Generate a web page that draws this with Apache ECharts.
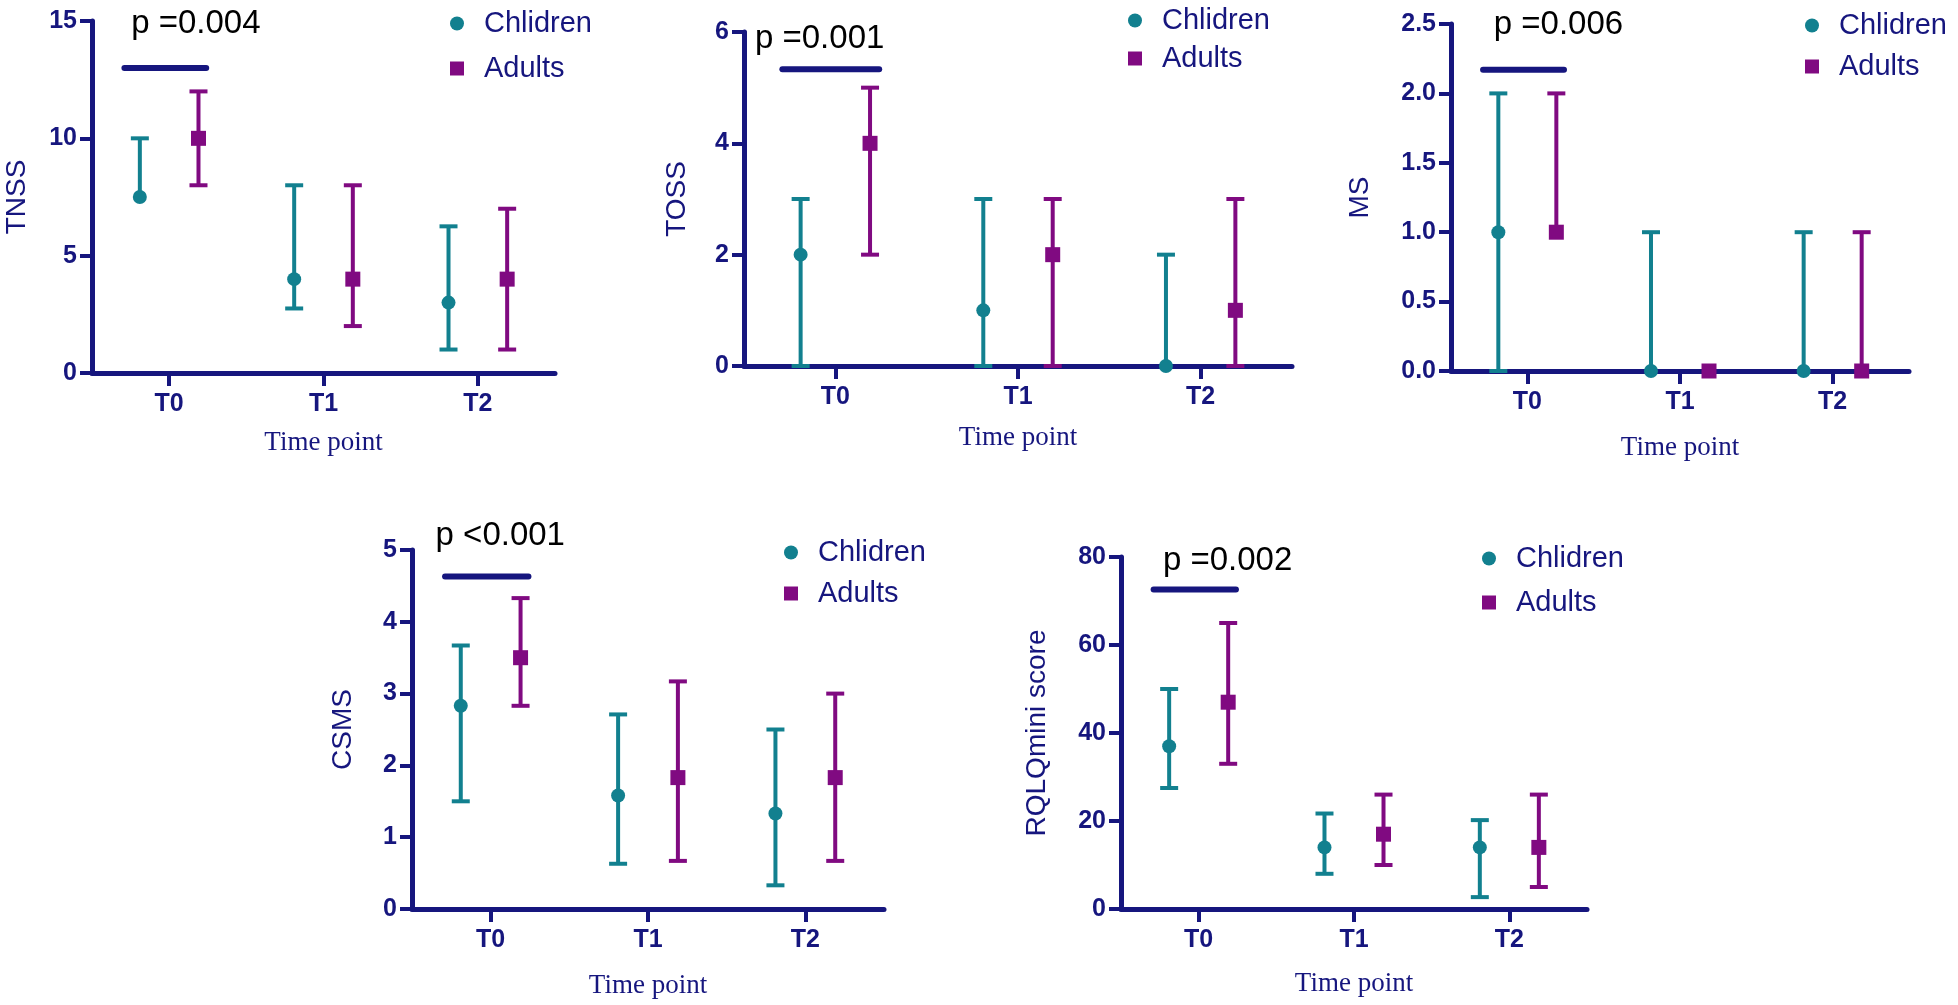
<!DOCTYPE html>
<html><head><meta charset="utf-8">
<script src="https://cdn.jsdelivr.net/npm/echarts@6/dist/echarts.min.js"></script>
<style>html,body{margin:0;padding:0;background:#fff}#c{width:1958px;height:1005px}</style>
</head><body><div id="c"></div>
<script>
// ---------- data ----------
const categories = ['T0', 'T1', 'T2'];
const groupNames = ['Chlidren', 'Adults'];

// TNSS
const tnssChildMedian = [7.5, 4, 3];
const tnssChildLow    = [7.5, 2.75, 1];
const tnssChildHigh   = [10, 8, 6.25];
const tnssAdultMedian = [10, 4, 4];
const tnssAdultLow    = [8, 2, 1];
const tnssAdultHigh   = [12, 8, 7];

// TOSS
const tossChildMedian = [2, 1, 0];
const tossChildLow    = [0, 0, 0];
const tossChildHigh   = [3, 3, 2];
const tossAdultMedian = [4, 2, 1];
const tossAdultLow    = [2, 0, 0];
const tossAdultHigh   = [5, 3, 3];

// MS
const msChildMedian = [1, 0, 0];
const msChildLow    = [0, 0, 0];
const msChildHigh   = [2, 1, 1];
const msAdultMedian = [1, 0, 0];
const msAdultLow    = [1, 0, 0];
const msAdultHigh   = [2, 0, 1];

// CSMS
const csmsChildMedian = [2.83, 1.58, 1.33];
const csmsChildLow    = [1.5, 0.63, 0.33];
const csmsChildHigh   = [3.67, 2.71, 2.5];
const csmsAdultMedian = [3.5, 1.83, 1.83];
const csmsAdultLow    = [2.83, 0.67, 0.67];
const csmsAdultHigh   = [4.33, 3.17, 3.0];

// RQLQmini
const rqlqChildMedian = [37, 14, 14];
const rqlqChildLow    = [27.5, 8, 2.7];
const rqlqChildHigh   = [50, 21.7, 20.2];
const rqlqAdultMedian = [47, 17, 14];
const rqlqAdultLow    = [33, 10, 5];
const rqlqAdultHigh   = [65, 26, 26];

// y-axis ticks and p values
const yAxisNames = ['TNSS', 'TOSS', 'MS', 'CSMS', 'RQLQmini score'];
const yMaxes     = [15, 6, 2.5, 5, 80];
const yIntervals = [5, 2, 0.5, 1, 20];
const pLabels    = ['p =0.004', 'p =0.001', 'p =0.006', 'p <0.001', 'p =0.002'];

// ---------- styles / layout ----------
const NAVY = '#16167e';
const TEAL = '#12808f';
const PURPLE = '#800a81';
const SANS = '"Liberation Sans", Arial, sans-serif';
const SERIF = '"Liberation Serif", "Times New Roman", serif';
const SQUARE_ICON = 'path://M0,0H10V10H0Z';

const layout = [
  {grid:{left:92, top:21, width:463, height:352}, legend:{left:445, top:4, gap:17}, yNameGap:61, xNameGap:56, pDx:-0.246, pY:14.87, sigY:13.0, dec:0},
  {grid:{left:744, top:32, width:548, height:334}, legend:{left:1123, top:1, gap:10}, yNameGap:53, xNameGap:58, pDx:-0.44, pY:5.87, sigY:5.33, dec:0},
  {grid:{left:1451, top:24, width:458, height:347}, legend:{left:1800, top:6, gap:13}, yNameGap:77, xNameGap:63, pDx:-0.22, pY:2.49, sigY:2.17, dec:1},
  {grid:{left:412, top:550, width:472, height:359}, legend:{left:779, top:533, gap:13}, yNameGap:55, xNameGap:63, pDx:-0.35, pY:5.19, sigY:4.63, dec:0},
  {grid:{left:1121, top:557, width:466, height:352}, legend:{left:1477, top:539, gap:16}, yNameGap:70, xNameGap:61, pDx:-0.23, pY:79.1, sigY:72.6, dec:0}
];
const OFFSET = 0.19, SIG_FROM = -0.29, SIG_TO = 0.24;

const panelData = [
  [[tnssChildMedian, tnssChildLow, tnssChildHigh], [tnssAdultMedian, tnssAdultLow, tnssAdultHigh]],
  [[tossChildMedian, tossChildLow, tossChildHigh], [tossAdultMedian, tossAdultLow, tossAdultHigh]],
  [[msChildMedian, msChildLow, msChildHigh], [msAdultMedian, msAdultLow, msAdultHigh]],
  [[csmsChildMedian, csmsChildLow, csmsChildHigh], [csmsAdultMedian, csmsAdultLow, csmsAdultHigh]],
  [[rqlqChildMedian, rqlqChildLow, rqlqChildHigh], [rqlqAdultMedian, rqlqAdultLow, rqlqAdultHigh]]
];

function errRender(offset, shape, color) {
  return function (params, api) {
    const i = api.value(0), med = api.value(1), lo = api.value(2), hi = api.value(3);
    const band = api.size([1, 0])[0];
    const x = api.coord([i, med])[0] + offset * band;
    const yM = api.coord([i, med])[1], yL = api.coord([i, lo])[1], yH = api.coord([i, hi])[1];
    const cap = 9;
    const st = {stroke: color, lineWidth: 4, fill: null};
    const ch = [];
    if (yL !== yH) ch.push({type: 'line', shape: {x1: x, y1: yL, x2: x, y2: yH}, style: st});
    if (hi !== med) ch.push({type: 'line', shape: {x1: x - cap, y1: yH, x2: x + cap, y2: yH}, style: st});
    if (lo !== med) ch.push({type: 'line', shape: {x1: x - cap, y1: yL, x2: x + cap, y2: yL}, style: st});
    if (shape === 'circle') ch.push({type: 'circle', shape: {cx: x, cy: yM, r: 7}, style: {fill: color}});
    else ch.push({type: 'rect', shape: {x: x - 7.5, y: yM - 7.5, width: 15, height: 15}, style: {fill: color}});
    return {type: 'group', children: ch};
  };
}

const grids = [], xAxes = [], yAxes = [], legends = [], series = [];
layout.forEach((L, k) => {
  grids.push(Object.assign({outerBoundsMode: 'none', containLabel: false}, L.grid));
  xAxes.push({
    type: 'category', gridIndex: k, data: categories, boundaryGap: true,
    axisLine: {show: true, lineStyle: {color: NAVY, width: 5}},
    axisTick: {show: true, alignWithLabel: true, length: 13, lineStyle: {color: NAVY, width: 4}},
    axisLabel: {color: NAVY, fontWeight: 'bold', fontSize: 25, fontFamily: SANS, margin: 19},
    splitLine: {show: false},
    name: 'Time point', nameLocation: 'middle', nameGap: L.xNameGap,
    nameTextStyle: {color: NAVY, fontFamily: SERIF, fontSize: 27}
  });
  yAxes.push({
    type: 'value', gridIndex: k, min: 0, max: yMaxes[k], interval: yIntervals[k],
    axisLine: {show: true, lineStyle: {color: NAVY, width: 5}},
    axisTick: {show: true, length: 12, lineStyle: {color: NAVY, width: 4}},
    axisLabel: {color: NAVY, fontWeight: 'bold', fontSize: 25, fontFamily: SANS, margin: 15,
      formatter: v => v.toFixed(L.dec)},
    splitLine: {show: false},
    name: yAxisNames[k], nameLocation: 'middle', nameGap: L.yNameGap,
    nameTextStyle: {color: NAVY, fontFamily: SANS, fontSize: 28}
  });
  legends.push({
    orient: 'vertical', left: L.legend.left, top: L.legend.top, itemGap: L.legend.gap - 1,
    itemWidth: 44, itemHeight: 14, selectedMode: false, symbolKeepAspect: true,
    textStyle: {color: NAVY, fontFamily: SANS, fontSize: 29},
    data: [{name: groupNames[0], icon: 'circle'}, {name: groupNames[1], icon: SQUARE_ICON}]
  });
  const colors = [TEAL, PURPLE], shapes = ['circle', 'rect'], offs = [-OFFSET, OFFSET];
  panelData[k].forEach((g, s) => {
    series.push({
      type: 'custom', name: groupNames[s], xAxisIndex: k, yAxisIndex: k, z: 5,
      itemStyle: {color: colors[s]},
      renderItem: errRender(offs[s], shapes[s], colors[s]),
      encode: {x: 0, y: [1, 2, 3]},
      data: categories.map((c, i) => [i, g[0][i], g[1][i], g[2][i]])
    });
  });
  series.push({
    type: 'custom', name: 'sig' + k, xAxisIndex: k, yAxisIndex: k, z: 6, silent: true,
    renderItem: function (params, api) {
      const band = api.size([1, 0])[0];
      const c = api.coord([api.value(0), api.value(1)]);
      const pt = api.coord([api.value(0), L.pY]);
      return {type: 'group', children: [
        {type: 'line', shape: {x1: c[0] + SIG_FROM * band, y1: c[1], x2: c[0] + SIG_TO * band, y2: c[1]},
          style: {stroke: NAVY, lineWidth: 6, lineCap: 'round'}},
        {type: 'text', x: c[0] + L.pDx * band, y: pt[1],
          style: {text: pLabels[k], fill: '#000', fontSize: 33, fontFamily: SANS, align: 'left', verticalAlign: 'middle'}}
      ]};
    },
    data: [[0, L.sigY]]
  });
});

const chart = echarts.init(document.getElementById('c'), null, {renderer: 'canvas'});
chart.setOption({
  backgroundColor: '#ffffff',
  animation: false,
  grid: grids, xAxis: xAxes, yAxis: yAxes, legend: legends, series: series
});
</script>
</body></html>
